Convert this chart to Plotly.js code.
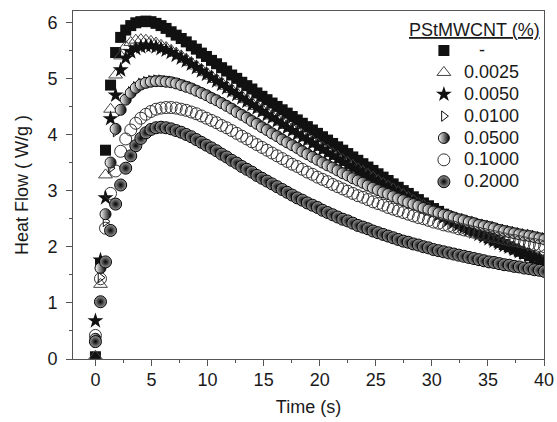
<!DOCTYPE html>
<html>
<head>
<meta charset="utf-8">
<script src="https://cdn.plot.ly/plotly-3.0.1.min.js"></script>
<style>html,body{margin:0;padding:0;background:#fff;}#chart{width:557px;height:422px;}</style>
</head>
<body>
<div id="chart"></div>
<script>
const time = [0,0.45,0.9,1.35,1.8,2.25,2.7,3.15,3.6,4.05,4.5,4.95,5.4,5.85,6.3,6.75,7.2,7.65,8.1,8.55,9.0,9.45,9.9,10.35,10.8,11.25,11.7,12.15,12.6,13.05,13.5,13.95,14.4,14.85,15.3,15.75,16.2,16.65,17.1,17.55,18.0,18.45,18.9,19.35,19.8,20.25,20.7,21.15,21.6,22.05,22.5,22.95,23.4,23.85,24.3,24.75,25.2,25.65,26.1,26.55,27.0,27.45,27.9,28.35,28.8,29.25,29.7,30.15,30.6,31.05,31.5,31.95,32.4,32.85,33.3,33.75,34.2,34.65,35.1,35.55,36.0,36.45,36.9,37.35,37.8,38.25,38.7,39.15,39.6,40.05];

const seriesNames = ["\u00a0\u00a0\u00a0-", "0.0025", "0.0050", "0.0100", "0.0500", "0.1000", "0.2000"];

const heatPure = [0.04,1.70,3.72,4.88,5.46,5.73,5.86,5.94,5.99,6.01,6.02,6.01,5.98,5.94,5.89,5.83,5.77,5.71,5.65,5.58,5.52,5.45,5.39,5.32,5.26,5.19,5.13,5.06,5.00,4.93,4.87,4.81,4.74,4.68,4.62,4.56,4.50,4.44,4.38,4.32,4.26,4.20,4.14,4.08,4.02,3.96,3.90,3.84,3.78,3.72,3.66,3.60,3.54,3.48,3.42,3.36,3.30,3.24,3.18,3.12,3.06,3.00,2.95,2.89,2.84,2.78,2.73,2.68,2.63,2.58,2.53,2.48,2.43,2.38,2.34,2.29,2.25,2.20,2.16,2.12,2.08,2.04,2.00,1.96,1.92,1.88,1.84,1.80,1.76,1.72];

const heat0025 = [0.05,1.33,3.28,4.45,5.06,5.40,5.57,5.64,5.68,5.69,5.68,5.66,5.63,5.59,5.55,5.50,5.45,5.40,5.34,5.28,5.22,5.16,5.10,5.04,4.98,4.92,4.86,4.80,4.74,4.68,4.62,4.56,4.50,4.45,4.39,4.33,4.28,4.22,4.16,4.11,4.05,3.99,3.94,3.88,3.83,3.77,3.72,3.66,3.61,3.55,3.50,3.45,3.39,3.34,3.29,3.24,3.18,3.13,3.08,3.03,2.98,2.93,2.88,2.83,2.78,2.74,2.69,2.64,2.60,2.55,2.51,2.46,2.42,2.38,2.33,2.29,2.25,2.21,2.17,2.13,2.09,2.05,2.02,1.98,1.94,1.91,1.87,1.84,1.80,1.77];

const heat0050 = [0.68,1.76,2.87,4.28,4.70,5.15,5.36,5.47,5.53,5.56,5.58,5.58,5.56,5.53,5.50,5.46,5.41,5.36,5.31,5.25,5.19,5.13,5.07,5.01,4.95,4.89,4.83,4.77,4.71,4.65,4.59,4.53,4.47,4.41,4.35,4.30,4.24,4.18,4.12,4.07,4.01,3.95,3.90,3.84,3.78,3.73,3.67,3.62,3.56,3.51,3.45,3.40,3.35,3.29,3.24,3.19,3.14,3.09,3.04,2.99,2.94,2.89,2.84,2.79,2.75,2.70,2.65,2.61,2.56,2.52,2.47,2.43,2.39,2.34,2.30,2.26,2.22,2.18,2.14,2.10,2.06,2.02,1.99,1.95,1.91,1.88,1.84,1.81,1.77,1.74];

const heat0100 = [0.30,1.45,2.45,3.40,4.05,4.42,4.63,4.76,4.85,4.91,4.94,4.96,4.97,4.97,4.96,4.95,4.93,4.91,4.88,4.85,4.81,4.77,4.73,4.69,4.64,4.59,4.54,4.49,4.44,4.38,4.33,4.27,4.22,4.16,4.11,4.05,4.00,3.94,3.89,3.84,3.79,3.73,3.68,3.63,3.58,3.53,3.48,3.44,3.39,3.34,3.30,3.25,3.21,3.17,3.12,3.08,3.04,3.00,2.97,2.93,2.89,2.86,2.82,2.79,2.76,2.72,2.69,2.66,2.63,2.60,2.58,2.55,2.52,2.50,2.47,2.45,2.42,2.40,2.38,2.36,2.33,2.31,2.29,2.27,2.25,2.23,2.22,2.20,2.18,2.16];

const heat0500 = [0.36,1.62,2.58,3.50,4.10,4.44,4.62,4.74,4.83,4.89,4.92,4.94,4.95,4.95,4.94,4.93,4.91,4.88,4.85,4.82,4.78,4.74,4.70,4.65,4.61,4.56,4.51,4.46,4.40,4.35,4.30,4.24,4.19,4.13,4.08,4.02,3.97,3.91,3.86,3.81,3.76,3.70,3.65,3.60,3.55,3.50,3.45,3.41,3.36,3.31,3.27,3.22,3.18,3.14,3.09,3.05,3.01,2.97,2.94,2.90,2.86,2.83,2.79,2.76,2.73,2.69,2.66,2.63,2.60,2.57,2.55,2.52,2.49,2.47,2.44,2.42,2.39,2.37,2.35,2.33,2.30,2.28,2.26,2.24,2.22,2.20,2.19,2.17,2.15,2.13];

const heat1000 = [0.42,1.43,2.33,2.95,3.35,3.70,3.92,4.08,4.20,4.29,4.36,4.41,4.45,4.47,4.48,4.48,4.47,4.45,4.43,4.40,4.37,4.33,4.29,4.25,4.21,4.16,4.12,4.07,4.02,3.97,3.92,3.87,3.82,3.77,3.72,3.67,3.62,3.57,3.52,3.47,3.43,3.38,3.33,3.29,3.24,3.20,3.16,3.11,3.07,3.03,2.99,2.95,2.91,2.88,2.84,2.80,2.77,2.74,2.70,2.67,2.64,2.61,2.58,2.55,2.52,2.50,2.47,2.44,2.42,2.39,2.37,2.35,2.32,2.30,2.28,2.26,2.24,2.22,2.20,2.18,2.16,2.14,2.12,2.11,2.09,2.07,2.05,2.04,2.02,2.00];

const heat2000 = [0.31,1.02,1.73,2.29,2.76,3.10,3.40,3.62,3.80,3.93,4.03,4.09,4.12,4.13,4.12,4.10,4.07,4.04,4.00,3.96,3.91,3.86,3.81,3.76,3.71,3.65,3.60,3.54,3.49,3.43,3.38,3.33,3.27,3.22,3.17,3.12,3.07,3.02,2.97,2.92,2.87,2.83,2.78,2.74,2.70,2.65,2.61,2.57,2.53,2.49,2.46,2.42,2.38,2.35,2.32,2.28,2.25,2.22,2.19,2.16,2.13,2.10,2.08,2.05,2.03,2.00,1.98,1.95,1.93,1.91,1.89,1.87,1.85,1.83,1.81,1.79,1.77,1.75,1.73,1.72,1.70,1.68,1.67,1.65,1.64,1.62,1.61,1.59,1.58,1.56];

const xTicks = [0,5,10,15,20,25,30,35,40];
const yTicks = [0,1,2,3,4,5,6];

const FONT = "Liberation Sans, Arial, Helvetica, sans-serif";
const INK = "#1a1a1a";

const markers = [
  {symbol: "square", size: 11, color: "#111"},
  {symbol: "triangle-up-open", size: 12, color: "#444", line: {width: 1, color: "#444"}},
  {symbol: "star", size: 12, color: "#111"},
  {symbol: "triangle-right-open", size: 9, color: "#111", line: {width: 1, color: "#111"}},
  {symbol: "circle", size: 11, color: "#ffffff", gradient: {type: "horizontal", color: "#000"}, line: {width: 1, color: "#111"}},
  {symbol: "circle-open", size: 12, color: "#333", line: {width: 1, color: "#333"}},
  {symbol: "circle", size: 12, color: "#9a9a9a", gradient: {type: "radial", color: "#000"}, line: {width: 1, color: "#000"}}
];
const ys = [heatPure, heat0025, heat0050, heat0100, heat0500, heat1000, heat2000];

const data = ys.map((y, i) => ({
  type: "scatter",
  mode: "markers",
  x: time,
  y: y,
  name: "<span style='font-size:18px'>" + seriesNames[i] + "</span>",
  marker: markers[i],
  cliponaxis: true
}));

const axisCommon = {
  showgrid: false,
  zeroline: false,
  showline: true,
  linecolor: "#555",
  linewidth: 1,
  mirror: true,
  ticks: "outside",
  ticklen: 6,
  tickwidth: 1,
  tickcolor: "#555",
  tickfont: {family: FONT, size: 18, color: INK}
};

const layout = {
  width: 557,
  height: 422,
  margin: {l: 73, r: 13, t: 11, b: 63},
  paper_bgcolor: "#fff",
  plot_bgcolor: "#fff",
  font: {family: FONT, size: 18, color: INK},
  showlegend: true,
  legend: {
    x: 0.745, y: 0.932, xanchor: "left", yanchor: "top",
    bgcolor: "rgba(0,0,0,0)",
    font: {family: FONT, size: 14.5, color: INK},
    itemsizing: "trace",
    tracegroupgap: 0
  },
  xaxis: Object.assign({}, axisCommon, {
    range: [-2, 40],
    tickmode: "array",
    tickvals: xTicks,
    ticktext: xTicks.map(String),
    ticklabelstandoff: -2,
    minor: {ticks: "outside", dtick: 2.5, tick0: 2.5, ticklen: 3, tickcolor: "#555", tickwidth: 1},
    title: {text: "Time (s)", font: {family: FONT, size: 18, color: INK}, standoff: 11}
  }),
  yaxis: Object.assign({}, axisCommon, {
    range: [0, 6.2],
    tickmode: "array",
    tickvals: yTicks,
    ticktext: yTicks.map(String),
    ticklabelstandoff: 5,
    minor: {ticks: "outside", dtick: 0.5, tick0: 0.5, ticklen: 3, tickcolor: "#555", tickwidth: 1},
    title: {text: "Heat Flow ( W/g )", font: {family: FONT, size: 18, color: INK}, standoff: 14}
  }),
  annotations: [{
    xref: "paper", yref: "paper",
    x: 0.709, y: 0.945, xanchor: "left", yanchor: "middle",
    showarrow: false,
    text: "<u>PStMWCNT (%)</u>",
    font: {family: FONT, size: 18, color: INK}
  }]
};

Plotly.newPlot("chart", data, layout, {displayModeBar: false, staticPlot: true});
</script>
</body>
</html>
